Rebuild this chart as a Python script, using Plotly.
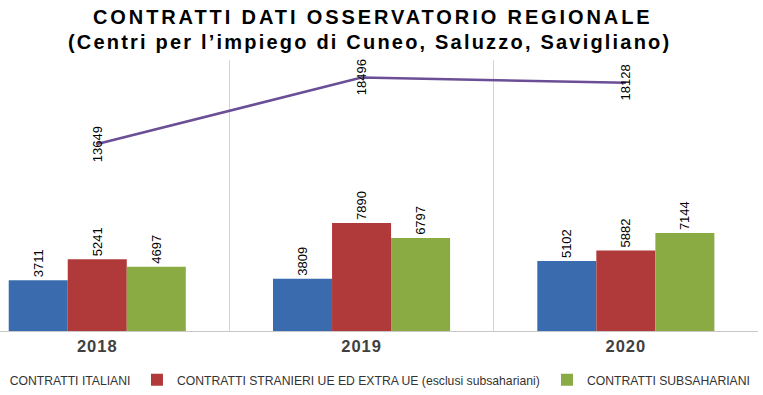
import plotly.graph_objects as go

years = ["2018", "2019", "2020"]
italiani = [3711, 3809, 5102]
stranieri = [5241, 7890, 5882]
subsahariani = [4697, 6797, 7144]
totale = [13649, 18496, 18128]

names = [
    "CONTRATTI ITALIANI",
    "CONTRATTI STRANIERI UE ED EXTRA UE (esclusi subsahariani)",
    "CONTRATTI SUBSAHARIANI",
]
title_lines = [
    "CONTRATTI DATI OSSERVATORIO REGIONALE",
    "(Centri per l’impiego di Cuneo, Saluzzo, Savigliano)",
]
colors = ["#3A6BAE", "#B03A3A", "#8AAA44"]
line_color = "#6B4E96"
legend_ids = ["legend", "legend2", "legend3"]
legend_x = [-0.04, 0.1807, 0.7216]


def spaced(s, px):
    return f"<span style='letter-spacing:{px}px'>{s}</span>"


label_font = dict(family="Liberation Sans, Arial", size=13, color="#000000")

fig = go.Figure()
for vals, name, col, lid in zip([italiani, stranieri, subsahariani], names, colors, legend_ids):
    fig.add_trace(go.Bar(
        x=years, y=vals, name=name, marker_color=col, marker_line_width=0,
        text=[str(v) for v in vals], textposition="outside", textangle=-90,
        textfont=label_font, cliponaxis=False, legend=lid,
    ))

fig.add_trace(go.Scatter(
    x=years, y=totale, mode="lines", showlegend=False,
    line=dict(color=line_color, width=2.5),
))

for i, v in enumerate(totale):
    fig.add_annotation(
        x=i, y=v, text=str(v), textangle=-90, showarrow=False,
        xref="x", yref="y", font=label_font,
    )

title_font = dict(family="Liberation Sans, Arial", size=20, color="#000000", weight="bold")
fig.add_annotation(
    xref="paper", yref="paper", x=0.492, y=1.159, xanchor="center", yanchor="middle",
    text=spaced(title_lines[0], 2.9), showarrow=False, font=title_font,
)
fig.add_annotation(
    xref="paper", yref="paper", x=0.487, y=1.066, xanchor="center", yanchor="middle",
    text=spaced(title_lines[1], 2.2), showarrow=False, font=title_font,
)

legend_font = dict(family="Liberation Sans, Arial", size=12.2, color="#333333")
legend_layout = {}
for lid, lx in zip(legend_ids, legend_x):
    legend_layout[lid] = dict(
        orientation="h", x=lx, xanchor="left", y=-0.18, yanchor="middle",
        font=legend_font, bgcolor="rgba(0,0,0,0)",
    )

fig.update_layout(
    width=763, height=395,
    margin=dict(l=0, r=5, t=60, b=64, autoexpand=False),
    paper_bgcolor="white", plot_bgcolor="white",
    barmode="group", bargap=0.33, bargroupgap=0,
    showlegend=True,
    xaxis=dict(
        type="category", categoryorder="array", categoryarray=years,
        tickvals=years, ticktext=[spaced(y, 1.0) for y in years],
        range=[-0.368, 2.5], tickson="boundaries", ticks="",
        showgrid=True, gridcolor="#d4d4d4", gridwidth=1,
        showline=True, linecolor="#c8c8c8", linewidth=1,
        tickfont=dict(family="Liberation Sans, Arial", size=16.5, color="#404040", weight="bold"),
        zeroline=False,
    ),
    yaxis=dict(
        range=[0, 19780], showgrid=False, showticklabels=False,
        zeroline=False, showline=False, ticks="",
    ),
    **legend_layout,
)

fig.write_html("out.html", config={"displayModeBar": False},
               post_script="document.body.style.margin='0';")
